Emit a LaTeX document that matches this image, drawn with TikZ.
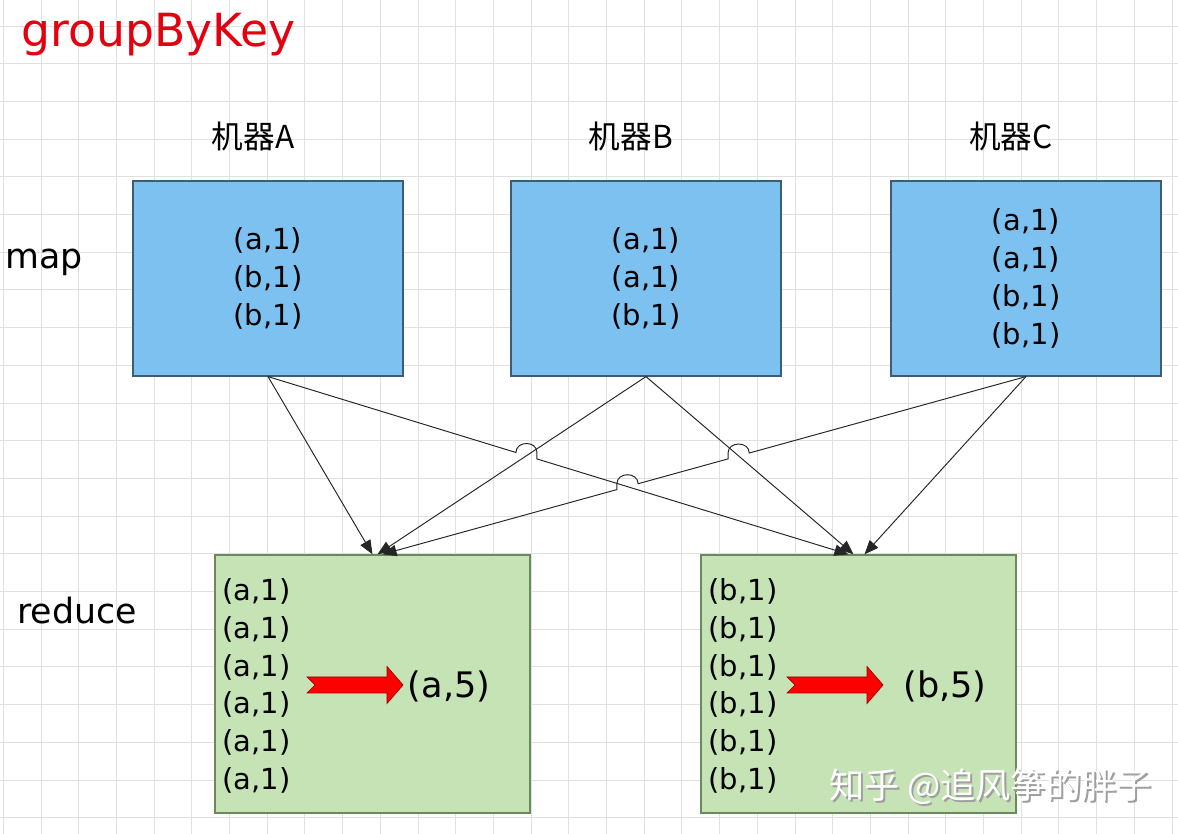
\documentclass[tikz,border=0pt]{standalone}
\usepackage{fontspec}
\setmainfont{DejaVu Sans}
\newfontfamily\cjkfont{Noto Sans CJK SC}
\usepackage{tikz}
\usetikzlibrary{calc, intersections, arrows.meta}
\definecolor{gridcolor}{HTML}{E0E0E0}
\definecolor{mapfill}{HTML}{7DC1F1}
\definecolor{mapline}{HTML}{3F5C75}
\definecolor{reducefill}{HTML}{C5E3B4}
\definecolor{reduceline}{HTML}{6A8A5B}
\definecolor{titlered}{HTML}{E5000F}
\definecolor{arrowred}{HTML}{FF0000}
\definecolor{linkcolor}{HTML}{262626}
\newcommand{\pairfont}{\fontsize{16.5pt}{21.5pt}\selectfont}

\begin{document}
\begin{tikzpicture}[x=0.02cm, y=-0.02cm]
    \tikzset{%
        mapbox/.style={draw=mapline, fill=mapfill, line width=0.7pt, minimum width=5.4cm, minimum height=3.9cm, align=center, font=\pairfont},
        reducebox/.style={draw=reduceline, fill=reducefill, line width=0.8pt, minimum width=6.3cm, minimum height=5.16cm},
        machine/.style={font=\cjkfont\fontsize{18pt}{18pt}\selectfont},
        stage/.style={anchor=base west, inner sep=0, font=\fontsize{19.8pt}{19.8pt}\selectfont},
        link/.style={draw=linkcolor, line width=0.55pt, -{Triangle[length=8pt, width=6.5pt]}},
        linehop/.style={insert path={-- (#1a) .. controls +(0,-12) and +(0,-12) .. (#1b |- #1a) -- (#1b)}},
        pics/redarrow/.style={code={%
                        \filldraw [fill=arrowred, draw=arrowred!60!black, line width=0.4pt]
                            (0,-8) -- (80,-8) -- (80,-18.5) -- (96,0) -- (80,18.5) -- (80,8) -- (0,8) -- (8,0) -- cycle;
                    }
            }
    }

    % background and grid
    \fill [white] (0, 0) rectangle (1178, 834);
    \useasboundingbox (0, 0) rectangle (1178, 834);
    \foreach \i in {0, ..., 31} {%
            \draw [gridcolor, line width=0.55pt] ({3.3+\i*37.7}, 0) -- ++(0, 834);
        };
    \foreach \j in {0, ..., 22} {%
            \draw [gridcolor, line width=0.55pt] (0, {-11.7+\j*37.7}) -- ++(1178, 0);
        };

    \node [anchor=base west, inner sep=0, text=titlered, font=\fontsize{26pt}{26pt}\selectfont] (title) at (21, 47) {groupByKey};
    \node [stage] (maplabel) at (5, 269) {map};
    \node [stage] (reducelabel) at (17, 624) {reduce};

    \node [machine] (labA) at (253, 136) {机器A};
    \node [machine] (labB) at (631, 136) {机器B};
    \node [machine] (labC) at (1011, 136) {机器C};

    % map side
    \node [mapbox] (mapA) at (268, 278.5) {(a,1)\\(b,1)\\(b,1)};
    \node [mapbox] (mapB) at (646, 278.5) {(a,1)\\(a,1)\\(b,1)};
    \node [mapbox] (mapC) at (1026, 278.5) {(a,1)\\(a,1)\\(b,1)\\(b,1)};

    % reduce side
    \node [reducebox] (reduceL) at (372.5, 684) {};
    \node [reducebox] (reduceR) at (858.5, 684) {};
    \node [anchor=west, inner sep=0, align=left, font=\pairfont] (listL) at ($(reduceL.west)+(8,2)$) {(a,1)\\(a,1)\\(a,1)\\(a,1)\\(a,1)\\(a,1)};
    \node [anchor=west, inner sep=0, align=left, font=\pairfont] (listR) at ($(reduceR.west)+(8,2)$) {(b,1)\\(b,1)\\(b,1)\\(b,1)\\(b,1)\\(b,1)};
    \pic at (307, 685) {redarrow};
    \pic at (787, 685) {redarrow};
    \node [font=\fontsize{20pt}{20pt}\selectfont] (sumL) at (449, 686) {(a,5)};
    \node [font=\fontsize{20pt}{20pt}\selectfont] (sumR) at (945, 686) {(b,5)};

    % shuffle links
    \coordinate (inLA) at ($(reduceL.north)+(0,0)$);
    \coordinate (inLB) at ($(reduceL.north)+(5,0)$);
    \coordinate (inLC) at ($(reduceL.north)+(10,0)$);
    \coordinate (inRA) at ($(reduceR.north)+(-10,0)$);
    \coordinate (inRB) at ($(reduceR.north)+(-5,0)$);
    \coordinate (inRC) at ($(reduceR.north)+(6,0)$);

    \path [name path=pAR] (mapA.south) -- (inRA);
    \path [name path=pBL] (mapB.south) -- (inLB);
    \path [name path=pBR] (mapB.south) -- (inRB);
    \path [name path=pCL] (mapC.south) -- (inLC);
    \path [name intersections={of=pAR and pBL, by=xAB}];
    \path [name intersections={of=pCL and pBR, by=xCB}];
    \path [name intersections={of=pCL and pAR, by=xCA}];
    \coordinate (hABa) at ($(xAB)!0.22cm!(mapA.south)$);
    \coordinate (hABb) at ($(xAB)!0.22cm!(inRA)$);
    \coordinate (hCBa) at ($(xCB)!0.22cm!(mapC.south)$);
    \coordinate (hCBb) at ($(xCB)!0.22cm!(inLC)$);
    \coordinate (hCAa) at ($(xCA)!0.22cm!(mapC.south)$);
    \coordinate (hCAb) at ($(xCA)!0.22cm!(inLC)$);

    \draw [link] (mapA.south) -- (inLA);
    \draw [link] (mapA.south) [linehop=hAB] -- (inRA);
    \draw [link] (mapB.south) -- (inLB);
    \draw [link] (mapB.south) -- (inRB);
    \draw [link] (mapC.south) [linehop=hCB] [linehop=hCA] -- (inLC);
    \draw [link] (mapC.south) -- (inRC);

    % watermark
    \node [anchor=west, text=gray!75, font=\cjkfont\fontsize{20pt}{20pt}\selectfont] (markshadow) at (825, 789) {知乎 @追风筝的胖子};
    \node [anchor=west, text=white, font=\cjkfont\fontsize{20pt}{20pt}\selectfont] (mark) at (823, 787) {知乎 @追风筝的胖子};
\end{tikzpicture}
\end{document}
